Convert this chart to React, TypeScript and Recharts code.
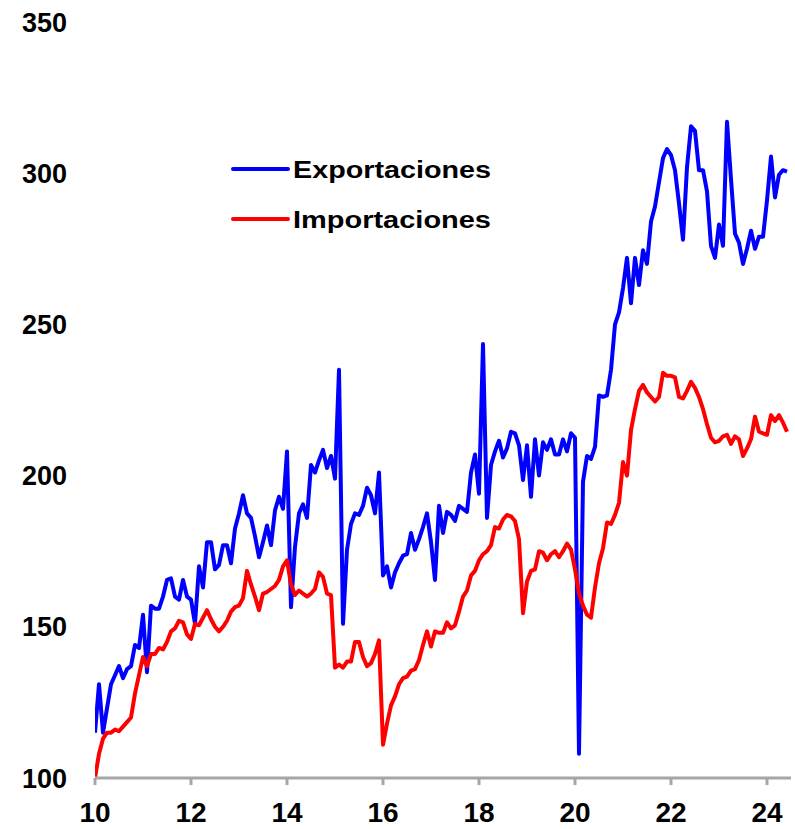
import { LineChart, Line, XAxis, YAxis, Legend } from 'recharts'

// monthly index, Jan 2010 = first point
const START_YEAR = 10

// Exportaciones
const exportaciones = [
  115, 131, 115, 123, 131, 134, 137, 133, 136, 137, 144, 143, // 2010
  154, 135, 157, 156, 156, 160, 165.5, 166, 160, 159, 165.5, 160, // 2011
  159, 151, 170, 163, 178, 178, 169, 170.5, 177, 177, 171, 182.5, // 2012
  187.5, 193.5, 187.5, 186, 180, 173, 178, 183.5, 177, 188.5, 193, 189, // 2013
  208, 156.5, 176.5, 187.5, 190.5, 186, 203.5, 201, 205, 208.5, 202.5, 206.5, // 2014
  199, 235, 151, 175.5, 184, 187.5, 187, 190, 196, 193.5, 187.5, 201, // 2015
  167, 170, 163, 168, 171, 173.5, 174, 181, 175.5, 179, 183, 187.5, // 2016
  178, 165.5, 190, 181, 188, 187, 185, 190, 189, 188, 201, 207, // 2017
  194, 243.5, 186, 203.5, 208, 211.5, 206, 209, 214.5, 214, 210, 198.5, // 2018
  210, 193, 212, 200, 211, 208.5, 212, 207, 207, 212, 208, 214, // 2019
  212.5, 108, 198, 206.5, 205.5, 209.5, 226.5, 226, 226.5, 235, 250, 254, // 2020
  262, 272, 257, 272, 263, 274.5, 270, 284, 289, 297, 305, 308, // 2021
  306, 301, 290, 278, 302, 315.5, 314, 301, 301, 294, 276, 272, // 2022
  283, 276, 317, 298, 280, 277, 270, 275, 281, 275, 279, 279, // 2023
  291, 305.5, 292, 299.5, 301, 300.5, // 2024
]

// Importaciones
const importaciones = [
  100, 108, 113, 115, 115, 116, 115.5, 117, 118.5, 120, 128, 134, // 2010
  140, 137, 141, 141, 143, 142.5, 145, 148.5, 149.5, 152, 151.5, 147.5, // 2011
  146, 151, 150.5, 153, 155.5, 152.5, 150, 148.5, 150, 152, 155, 156.5, // 2012
  157, 159.5, 168.5, 164, 160, 155.5, 161, 161.5, 162.5, 163.5, 165.5, 170, // 2013
  172, 164, 160.5, 162, 161, 160, 161, 162.5, 168, 166.5, 161, 160.5, // 2014
  136.5, 137.5, 136.5, 138.5, 138.5, 145, 145, 140, 137, 138, 141, 145.5, // 2015
  111, 118, 124, 127, 131, 133, 133.5, 135.5, 136, 139, 144, 148.5, // 2016
  143.5, 148.5, 148, 148, 151.5, 149.5, 150.5, 155, 160, 162, 167, 168.5, // 2017
  172, 174, 175, 177, 183, 182.5, 185.5, 187, 186.5, 185, 179, 154.5, // 2018
  165, 168.5, 169, 175, 174.5, 172, 174, 175, 173, 175, 177.5, 175.5, // 2019
  169, 161, 157, 154, 153, 163, 171, 176, 184.5, 184, 187, 191, // 2020
  204.5, 200, 215, 222, 228, 230, 227.5, 226, 224.5, 226, 234, 233, // 2021
  233, 232.5, 226, 225.5, 228, 231, 229, 226, 222, 217, 212.5, 211, // 2022
  211.5, 213, 213.5, 210.5, 213, 212, 206.5, 209, 212, 219.5, 214.5, 214, // 2023
  213.5, 220, 218, 220, 217.5, 214.5, // 2024
]

const xTicks = [10, 12, 14, 16, 18, 20, 22, 24]
const yTicks = [100, 150, 200, 250, 300, 350]

const seriesInfo = [
  { key: 'exp', name: 'Exportaciones', color: '#0000ff' },
  { key: 'imp', name: 'Importaciones', color: '#ff0000' },
]

const chartData = exportaciones.map((v, i) => ({
  t: START_YEAR + i / 12,
  exp: v,
  imp: importaciones[i],
}))

const FONT = '"Liberation Sans", Arial, sans-serif'
const AXIS_GRAY = '#a6a6a6'

const renderLegend = () => (
  <svg width={280} height={95}>
    {seriesInfo.map((s, i) => (
      <g key={s.key}>
        <line
          x1={8}
          x2={63}
          y1={24 + i * 50}
          y2={24 + i * 50}
          stroke={s.color}
          strokeWidth={4}
          strokeLinecap="round"
        />
        <text
          x={68}
          y={32.5 + i * 50}
          fontFamily={FONT}
          fontWeight="bold"
          fontSize={23}
          fill="#000"
          textLength={198}
          lengthAdjust="spacingAndGlyphs"
        >
          {s.name}
        </text>
      </g>
    ))}
  </svg>
)

export default function App() {
  return (
    <div style={{ position: 'absolute', left: 0, top: 0, width: 795, height: 829, background: '#fff' }}>
      <LineChart
        width={795}
        height={829}
        data={chartData}
        margin={{ top: 22, right: 4, bottom: 0, left: 0 }}
      >
        <XAxis
          dataKey="t"
          type="number"
          domain={[10, 24.5]}
          ticks={xTicks}
          height={51}
          axisLine={{ stroke: AXIS_GRAY, strokeWidth: 3 }}
          tickLine={{ stroke: AXIS_GRAY, strokeWidth: 3 }}
          tickSize={7}
          tickMargin={17}
          tick={{ fill: '#000', fontSize: 28, fontWeight: 'bold', fontFamily: FONT }}
          allowDataOverflow
        />
        <YAxis
          type="number"
          domain={[100, 350]}
          ticks={yTicks}
          width={95}
          axisLine={false}
          tickLine={false}
          tickSize={0}
          tickMargin={28}
          tick={{ fill: '#000', fontSize: 27, fontWeight: 'bold', fontFamily: FONT }}
          allowDataOverflow
        />
        <Legend
          layout="vertical"
          align="center"
          verticalAlign="middle"
          content={renderLegend}
          wrapperStyle={{ left: 225, top: 145, width: 280, height: 95 }}
        />
        {seriesInfo.map((s) => (
          <Line
            key={s.key}
            type="linear"
            dataKey={s.key}
            name={s.name}
            stroke={s.color}
            strokeWidth={4}
            strokeLinejoin="round"
            dot={false}
            activeDot={false}
            isAnimationActive={false}
          />
        ))}
      </LineChart>
    </div>
  )
}
